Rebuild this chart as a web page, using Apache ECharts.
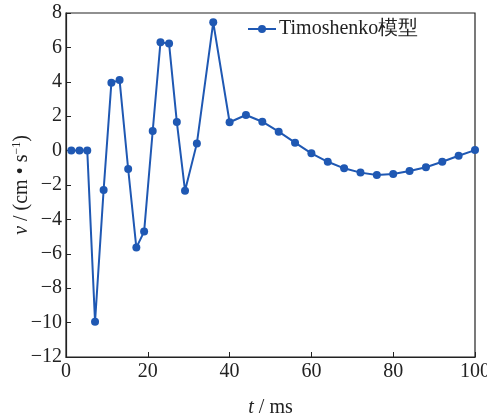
<!DOCTYPE html>
<html><head><meta charset="utf-8">
<script src="https://cdn.jsdelivr.net/npm/echarts@6/dist/echarts.min.js"></script>
<style>html,body{margin:0;padding:0;background:#fff}#c{width:487px;height:418px}</style>
</head><body><div id="c"></div>
<script>
const seriesName = 'Timoshenko模型';
const tValues = [1.3,3.3,5.2,7.1,9.2,11.1,13.1,15.2,17.2,19.1,21.2,23.1,25.2,27.1,29.1,32,36,40,44,48,52,56,60,64,68,72,76,80,84,88,92,96,100];
const vValues = [0,0,0,-9.95,-2.29,3.95,4.10,-1.07,-5.64,-4.71,1.14,6.30,6.22,1.66,-2.33,0.42,7.46,1.65,2.07,1.68,1.10,0.46,-0.16,-0.65,-1.03,-1.28,-1.42,-1.36,-1.19,-0.97,-0.65,-0.30,0.03];
const xTicks = [0,20,40,60,80,100];
const yTicks = [-12,-10,-8,-6,-4,-2,0,2,4,6,8];

const font = 'Liberation Serif';
const color = '#1f58b3';
const chart = echarts.init(document.getElementById('c'));
const fmt = v => (v < 0 ? '\u2212' + Math.abs(v) : String(v));
chart.setOption({
  animation: false,
  grid: {left: 66, top: 13, right: 12, bottom: 61, show: true, borderColor: '#222', borderWidth: 1.2, containLabel: false, outerBoundsMode: 'none'},
  legend: {
    data: [seriesName], top: 19, left: 247, padding: 0, itemWidth: 28, itemHeight: 10, itemGap: 4,
    textStyle: {fontFamily: font, fontSize: 20, color: '#222', padding: [0,0,0,-2]}
  },
  xAxis: {
    type: 'value', min: xTicks[0], max: xTicks[xTicks.length - 1], interval: 20,
    axisLine: {onZero: false, lineStyle: {color: '#222', width: 1.2}},
    axisTick: {inside: true, length: 5, lineStyle: {color: '#222'}},
    splitLine: {show: false},
    axisLabel: {fontFamily: font, fontSize: 20, color: '#222', margin: 5, formatter: fmt},
    name: '{i|t} / ms', nameLocation: 'middle', nameGap: 41, nameMoveOverlap: false,
    nameTextStyle: {fontFamily: font, fontSize: 20, color: '#222', rich: {i: {fontFamily: font, fontStyle: 'italic', fontSize: 20, color: '#222'}}}
  },
  yAxis: {
    type: 'value', min: yTicks[0], max: yTicks[yTicks.length - 1], interval: 2,
    axisLine: {onZero: false, lineStyle: {color: '#222', width: 1.2}},
    axisTick: {inside: true, length: 5, lineStyle: {color: '#222'}},
    splitLine: {show: false},
    axisLabel: {fontFamily: font, fontSize: 20, color: '#222', margin: 4, formatter: fmt},
    name: '{i|v} / (cm • s{s|\u22121})', nameLocation: 'middle', nameGap: 34, nameRotate: 90, nameMoveOverlap: false,
    nameTextStyle: {fontFamily: font, fontSize: 20, color: '#222', rich: {
      i: {fontFamily: font, fontStyle: 'italic', fontSize: 20, color: '#222'},
      s: {fontFamily: font, fontSize: 12, color: '#222', verticalAlign: 'top', padding: [0,0,9,0]}
    }}
  },
  series: [{
    name: seriesName, type: 'line',
    data: tValues.map((t, i) => [t, vValues[i]]),
    symbol: 'circle', symbolSize: 8,
    itemStyle: {color: color},
    lineStyle: {color: color, width: 2}
  }]
});
</script></body></html>
